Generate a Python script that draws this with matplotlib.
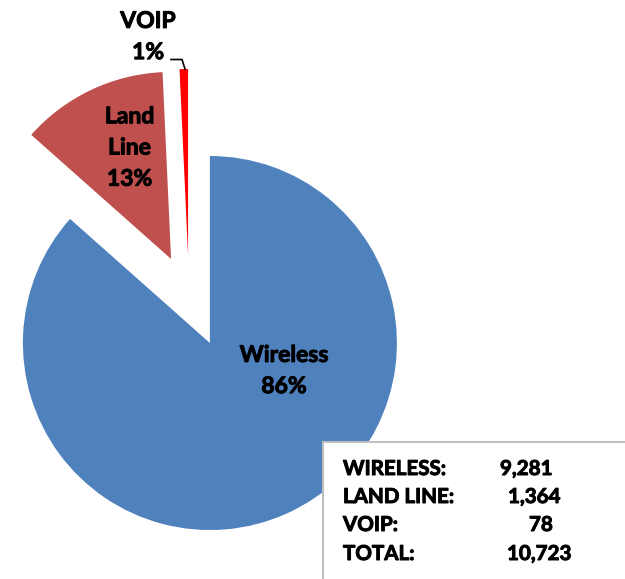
import matplotlib
matplotlib.use('Agg')

import matplotlib.pyplot as plt
import matplotlib.patheffects as pe
from matplotlib.patches import Rectangle

# ---------------------------
# DADOS
# ---------------------------
categories = ["Wireless", "Land Line", "VOIP"]
values = [9281, 1364, 78]
pct_labels = ["86%", "13%", "1%"]
slice_labels = ["Wireless", "Land\nLine", "VOIP"]
box_names = ["WIRELESS:", "LAND LINE:", "VOIP:", "TOTAL:"]

colors = ["#4F81BD", "#C0504D", "#FF0000"]
explode = [51, 41.6, 40.5]   # em pixels (mpl usa deslocamento absoluto)

W, H = 625, 579
FONT = "Lato"
# Lato Bold é mais leve que o Calibri Bold do original: engrossa um pouco
thick = [pe.withStroke(linewidth=0.7, foreground='black')]

# ---------------------------
# FIGURA (coordenadas em pixels, y para cima)
# ---------------------------
fig = plt.figure(figsize=(W / 100, H / 100), dpi=100)
ax = fig.add_axes([0, 0, 1, 1])

ax.pie(values, explode=explode, colors=colors, startangle=90,
       counterclock=False, radius=187, center=(189, H - 296.5),
       wedgeprops=dict(linewidth=0))

ax.set_xlim(0, W)
ax.set_ylim(0, H)
ax.set_aspect('equal')
ax.axis('off')

# rótulos das fatias
lab_pos = [(284, H - 371), (129.5, H - 148), (148, H - 37)]
for name, pct, (x, y) in zip(slice_labels, pct_labels, lab_pos):
    ax.text(x, y, name + "\n" + pct, ha='center', va='center',
            fontsize=16.5, fontweight='bold', family=FONT,
            linespacing=1.6, color='black', path_effects=thick)

# linha guia do VOIP
ax.plot([171, 182, 185], [H - 59.5, H - 59.5, H - 69],
        color='black', lw=1.2, solid_joinstyle='miter')

# ---------------------------
# CAIXA DE TOTAIS
# ---------------------------
ax.add_patch(Rectangle((323, -10), 400, H - 442 + 10, facecolor='white',
                       edgecolor='#BFBFBF', lw=1.5, zorder=5))

box_vals = values + [sum(values)]
val_x = [500, 508, 529, 507]
row_y = [475, 503, 531, 560]
for name, v, vx, ry in zip(box_names, box_vals, val_x, row_y):
    ax.text(343, H - ry, name, ha='left', va='baseline', fontsize=14.8,
            fontweight='bold', family=FONT, zorder=6, path_effects=thick)
    ax.text(vx, H - ry, f"{v:,}", ha='left', va='baseline', fontsize=14.8,
            fontweight='bold', family=FONT, zorder=6, path_effects=thick)

fig.savefig("out.png", dpi=100)
